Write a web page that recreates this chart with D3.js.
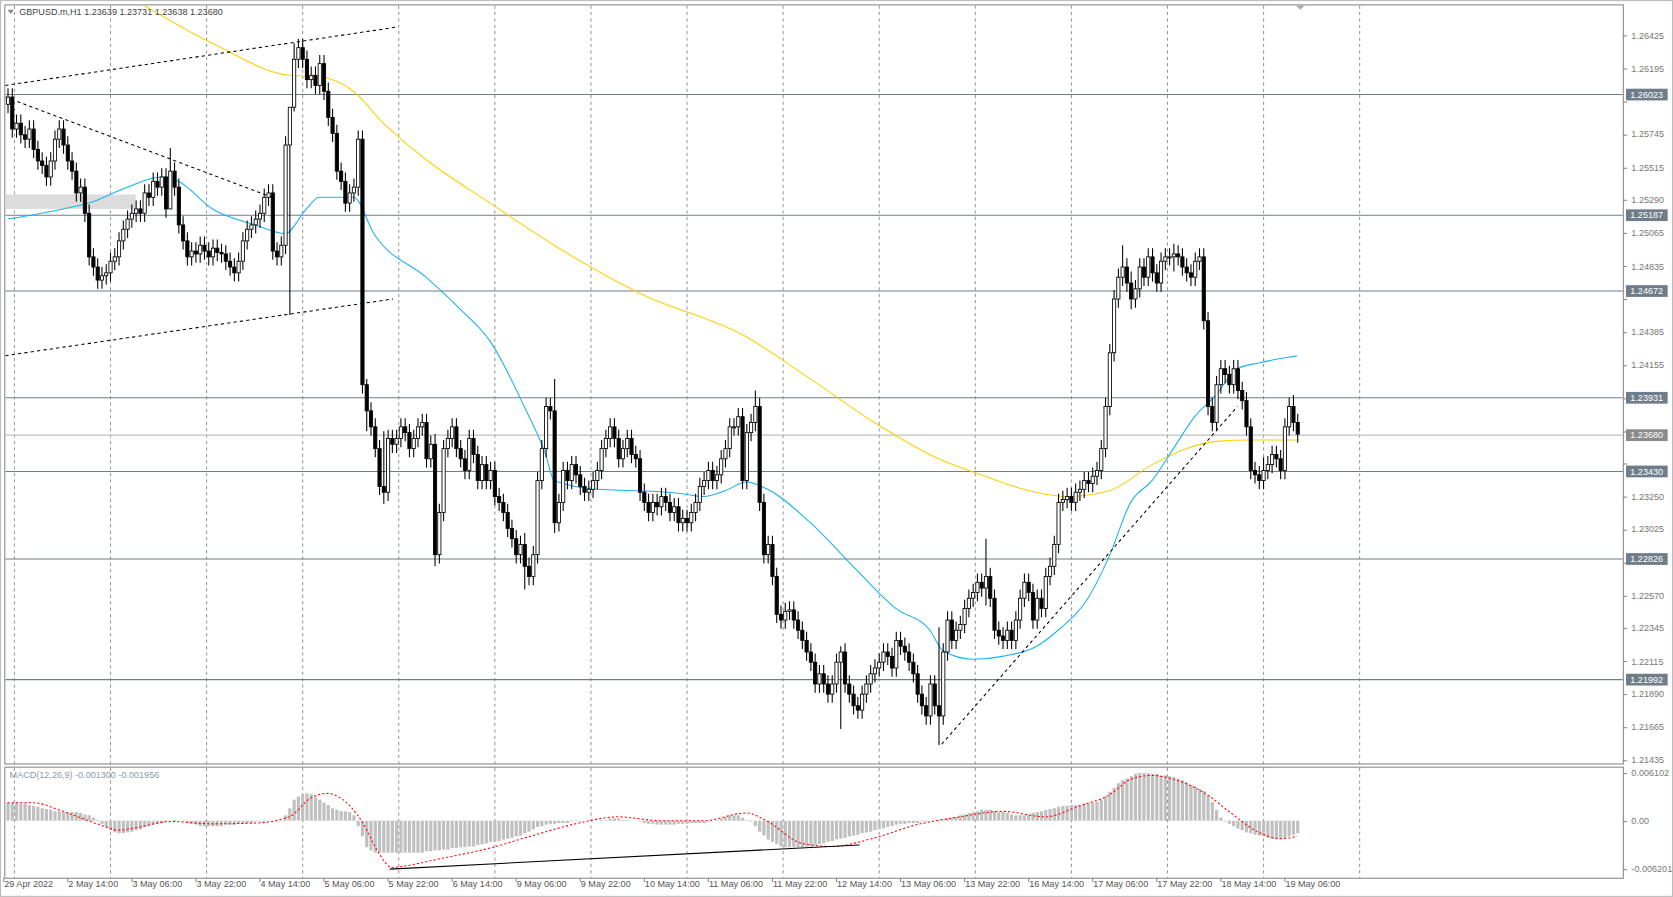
<!DOCTYPE html>
<html><head><meta charset="utf-8">
<script src="https://cdn.jsdelivr.net/npm/d3@7"></script>
<style>body{margin:0;background:#fff}svg{display:block}text{font-family:"Liberation Sans",Arial,sans-serif}</style>
</head><body><svg id="chart"></svg>
<script>
// closes in pips above 1.2 (1.2 + v/10000), one per H1 bar
const closes = [
600,578,582,574,571,578,564,556,553,545, 556,571,578,567,556,549,534,538,520,490,
483,474,477,479,487,490,501,509,516,520, 523,520,534,531,542,538,545,523,549,538,
512,501,490,494,492,498,494,490,496,493, 492,487,483,479,487,501,509,512,516,520,
531,534,494,490,498,567,593,626,634,626, 612,615,608,623,604,586,575,549,542,527,
534,538,571,402,384,373,358,332,328,365, 361,365,373,369,358,365,373,376,351,361,
285,314,358,365,373,358,351,343,365,354, 336,347,336,343,325,321,314,303,296,285,
292,277,270,285,336,358,387,384,307,321, 343,336,347,340,332,328,330,336,343,358,
365,373,365,351,358,365,354,351,328,321, 314,321,318,325,321,314,318,307,310,307,
314,321,332,336,343,336,340,351,358,373, 373,380,336,369,376,387,321,285,292,270,
244,240,246,247,240,233,226,218,211,196, 203,196,189,196,211,218,196,189,181,178,
189,196,203,207,211,218,215,207,226,222, 218,211,203,189,181,174,196,181,174,218,
240,226,233,237,248,255,259,266,262,270, 255,233,229,226,233,226,240,255,266,259,
240,255,248,270,277,292,321,323,325,321, 328,330,336,334,339,343,358,387,424,461,
476,483,472,461,468,483,476,490,479,472, 487,490,490,492,490,483,479,476,487,490,
446,387,376,402,413,409,402,413,398,391, 373,343,340,336,343,347,354,351,343,373,
387,376,368];
const firstOpen = 595;
// notable wicks: [bar, high, low] in pips
const wicks = [[38,565,536],[66,568,450],[67,637,590],[68,640,620],[100,368,277],[121,300,261],
  [128,406,300],[175,398,370],[195,222,165],[218,235,154],[229,296,250],[261,498,470],
  [263,480,454],[273,499,480],[294,352,330],[301,395,370],[84,406,370],[88,370,320]];
const defaultWick = 6;

const levels = [1.26023, 1.25187, 1.24672, 1.23931, 1.23430, 1.22826, 1.21992];
const lastPrice = 1.23680;
const priceTicks = [1.26425,1.26195,1.25970,1.25745,1.25515,1.25290,1.25065,1.24835,1.24610,1.24385,
  1.24155,1.23925,1.23700,1.23475,1.23250,1.23025,1.22795,1.22570,1.22345,1.22115,1.21890,1.21665,1.21435];

// moving averages: bar index, pips
const blueBars = [0,13,20,28,36,40,48,58,65,70,73,81,86,98,106,113,121,126,128,138,148,158,163,168,173,178,188,198,208,216,219,226,233,241,246,253,258,263,268,273,278,283,288,293,298,302];
const blueVals = [516,523,528,538,545,542,523,512,506,523,531,531,505,476,454,432,387,354,336,330,329,327,325,329,335,330,307,277,248,233,219,213,215,222,233,255,284,321,336,358,380,395,413,417,420,422];
const yellowBars = [28,48,66,73,81,88,98,113,128,148,173,188,203,218,228,238,248,258,268,276,283,291,302];
const yellowVals = [670,637,615,614,604,582,557,527,498,465,435,406,376,351,340,330,325,329,347,358,363,364,364];

// MACD histogram, units of 0.0001
const macdHist = [
23,23,23,22,22,20,19, 18,16,15,14,12,12,11, 11,11,11,10,8,7,4,1, -4,-8,-12,-15,-16,-16,-15,
-14,-12,-11,-8,-7,-5,-4, -3,-1,0,1,0,-1,-3,-4, -5,-7,-7,-7,-7,-7,-7,-5,-5,-5,
-4,-4,-3,-3,-1,-1,-1,0,0,-1,-1, 7,16,27,31,34,35,34,30,27, 23,20,16,14,12,12,11, 7,-7,-20,
-34,-38,-41,-41,-41,-41,-41,-41,-41,-41,
-41,-41,-41,-41,-39,-39,-38,-38,-37,-37,-35,-35,-34,-34,-33,-33,-31,-30,-29,-27,-27,-26,
-24,-23,-22,-20,-19,-16,-14,-11,-8,-7, -5,-4,-4,-3,-3,-3,-1,-1,-1,0,0,0,0,
1,1,3,3,3,1,1,0,0,-1, -3,-4,-4,-5,-5,-5,-5,-5,-4,-4,-4,-3,-3,-3,-3,
-1,0,1,3,5,7,7,7,4,1, -1,-7,-14,-19,-24,
-27,-30,-33,-34,-34,-34,-34,-34,-33,-33,-31,-30,-29,-27,-26,
-24,-23,-22,-20,-19,-18,-16,-15,-14,-12,-11,-10,-8,-7,-5,
-4,-4,-3,-3,-3,-1,-1,0,0,1,1,3,4,5,7,
8,10,11,12,14,14,14,12,11,11, 10,8,7,7,7,8,10,11,12,14,15,16,
18,19,19,20,20,20,22,22,23,24, 27,31,37,42,48,52,54,57,
60,61,61,61,60,60,58,58,57,56, 54,52,49,46,44,41,38,33, 24,14,4,-1,-4,
-7,-10,-12,-15,-16,-18,-19,-20,-22,-23,-23,-23,-22,-20,-18,-16];
const signalBars = [0,6,13,21,26,31,38,48,58,66,71,75,78,83,87,90,93,101,113,123,133,143,153,163,173,178,186,193,203,213,223,233,243,251,258,263,268,273,281,286,293,298,302];
const signalVals = [23,23,12,-4,-12,-8,-1,-4,-3,5,29,35,29,-1,-42,-60,-58,-49,-35,-19,-4,5,0,0,10,-1,-29,-33,-22,-5,5,12,5,19,33,53,58,53,33,12,-15,-23,-20];

const timeLabels = ["29 Apr 2022","2 May 14:00","3 May 06:00","3 May 22:00","4 May 14:00","5 May 06:00","5 May 22:00",
  "6 May 14:00","9 May 06:00","9 May 22:00","10 May 14:00","11 May 06:00","11 May 22:00","12 May 14:00",
  "13 May 06:00","13 May 22:00","16 May 14:00","17 May 06:00","17 May 22:00","18 May 14:00","19 May 06:00"];

// trend lines: [bar0, price0, bar1, price1]
const trendLines = [[-0.5,1.2608,90.75,1.2648],[-0.5,1.2422,90.25,1.2461],[-0.5,1.2600,62,1.2531],[218.75,1.21545,288,1.2387]];
const macdLine = [89.5,-0.0062,199.5,-0.0031];
const zone = [-0.5,30, 1.2533,1.2523];

const pip = v => 1.2 + v / 10000;
const W = 1567, H = 840;
const svg = d3.select('#chart').attr('width', 1673).attr('height', 897).attr('viewBox', `0 0 ${W} ${H}`);

const x = d3.scaleLinear().domain([0, 302]).range([7, 1215]);
const y = d3.scaleLinear().domain([1.21435, 1.26425]).range([712, 33]);
const ym = d3.scaleLinear().domain([-0.006201, 0.006102]).range([814, 724]);

svg.append('defs').append('clipPath').attr('id', 'clipMain').append('rect').attr('x', 5).attr('y', 5).attr('width', 1515).attr('height', 710);

// frames
svg.append('rect').attr('x', 0.5).attr('y', 0.5).attr('width', 1566).attr('height', 839).attr('fill', 'none').attr('stroke', '#bbb');
svg.append('rect').attr('x', 4.5).attr('y', 4.5).attr('width', 1516).attr('height', 711).attr('fill', 'none').attr('stroke', '#888');
svg.append('rect').attr('x', 4.5).attr('y', 718.5).attr('width', 1516).attr('height', 104).attr('fill', 'none').attr('stroke', '#888');

// vertical grid
const gridX = d3.range(13, 1280, 90);
svg.selectAll('.vg').data(gridX).join('line').attr('x1', d => d + 0.5).attr('x2', d => d + 0.5)
  .attr('y1', 5).attr('y2', 822).attr('stroke', '#999').attr('stroke-dasharray', '3,3');

const main = svg.append('g').attr('clip-path', 'url(#clipMain)');

main.append('rect').attr('x', x(zone[0])).attr('width', x(zone[1]) - x(zone[0]))
  .attr('y', y(zone[2])).attr('height', y(zone[3]) - y(zone[2])).attr('fill', '#dcdcdc');

// levels
main.selectAll('.lvl').data(levels).join('line').attr('x1', 5).attr('x2', 1520)
  .attr('y1', d => Math.round(y(d)) + 0.5).attr('y2', d => Math.round(y(d)) + 0.5).attr('stroke', '#6f7c8a');
main.append('line').attr('x1', 5).attr('x2', 1520).attr('y1', Math.round(y(lastPrice)) + 0.5).attr('y2', Math.round(y(lastPrice)) + 0.5).attr('stroke', '#c0c0c0');

// MAs
const lineGen = d3.line().x(d => x(d[0])).y(d => y(pip(d[1]))).curve(d3.curveMonotoneX);
main.append('path').datum(yellowBars.map((b, i) => [b, yellowVals[i]])).attr('d', lineGen).attr('fill', 'none').attr('stroke', '#ffd000').attr('stroke-width', 1);
main.append('path').datum(blueBars.map((b, i) => [b, blueVals[i]])).attr('d', lineGen).attr('fill', 'none').attr('stroke', '#1ab2f0').attr('stroke-width', 1);

// trend lines
main.selectAll('.tl').data(trendLines).join('line')
  .attr('x1', d => x(d[0])).attr('y1', d => y(d[1])).attr('x2', d => x(d[2])).attr('y2', d => y(d[3]))
  .attr('stroke', '#000').attr('stroke-dasharray', '3,3');

// candles
const wickMap = new Map(wicks.map(w => [w[0], w]));
const candles = closes.map((c, i) => {
  const o = i === 0 ? firstOpen : closes[i - 1];
  const w = wickMap.get(i);
  const hi = w ? Math.max(w[1], o, c) : Math.max(o, c) + defaultWick;
  const lo = w ? Math.min(w[2], o, c) : Math.min(o, c) - defaultWick;
  return { i, o: pip(o), c: pip(c), h: pip(hi), l: pip(lo) };
});
const cg = main.selectAll('.cd').data(candles).join('g');
cg.append('line').attr('x1', d => Math.round(x(d.i)) + 0.5).attr('x2', d => Math.round(x(d.i)) + 0.5)
  .attr('y1', d => y(d.h)).attr('y2', d => y(d.l)).attr('stroke', '#000');
cg.append('rect').attr('x', d => Math.round(x(d.i)) - 1).attr('width', 3)
  .attr('y', d => y(Math.max(d.o, d.c))).attr('height', d => Math.max(1, Math.abs(y(d.o) - y(d.c))))
  .attr('fill', d => d.c >= d.o ? '#fff' : '#000').attr('stroke', '#000').attr('stroke-width', 0.8);

// right axis
const ax = svg.append('g');
ax.selectAll('.pt').data(priceTicks).join('line').attr('x1', 1520).attr('x2', 1524)
  .attr('y1', d => Math.round(y(d)) + 0.5).attr('y2', d => Math.round(y(d)) + 0.5).attr('stroke', '#888');
ax.selectAll('.ptl').data(priceTicks.filter(v => !levels.concat([lastPrice]).some(l => Math.abs(y(l) - y(v)) < 9)))
  .join('text').attr('x', 1528).attr('y', d => y(d) + 3)
  .attr('font-size', 8.5).attr('fill', '#777').text(d => d.toFixed(5));
const tag = (v, fill) => {
  const yy = Math.round(y(v));
  ax.append('rect').attr('x', 1523).attr('y', yy - 5).attr('width', 39).attr('height', 11).attr('fill', fill);
  ax.append('text').attr('x', 1527).attr('y', yy + 3.5).attr('font-size', 8.5).attr('fill', '#fff').text(v.toFixed(5));
};
levels.forEach(v => tag(v, '#6f7c8a'));
tag(lastPrice, '#8a8a8a');

// header
svg.append('path').attr('d', 'M7,9 L13,9 L10,13 Z').attr('fill', '#888');
svg.append('text').attr('x', 18).attr('y', 14).attr('font-size', 8.5).attr('fill', '#444')
  .text('GBPUSD.m,H1  1.23639 1.23731 1.23638 1.23680');
svg.append('path').attr('d', 'M1214,5 L1222,5 L1218,9 Z').attr('fill', '#aaa');

// MACD
const mg = svg.append('g');
mg.selectAll('.hb').data(macdHist).join('rect')
  .attr('x', (d, i) => Math.round(x(i)) - 1).attr('width', 3)
  .attr('y', d => ym(Math.max(0, d / 10000))).attr('height', d => Math.abs(ym(d / 10000) - ym(0)))
  .attr('fill', '#c0c0c0');
mg.append('path').datum(signalBars.map((b, i) => [b, signalVals[i] / 10000]))
  .attr('d', d3.line().x(d => x(d[0])).y(d => ym(d[1])).curve(d3.curveMonotoneX))
  .attr('fill', 'none').attr('stroke', '#f00').attr('stroke-dasharray', '2,2');
mg.append('line').attr('x1', x(macdLine[0])).attr('y1', ym(macdLine[1])).attr('x2', x(macdLine[2])).attr('y2', ym(macdLine[3])).attr('stroke', '#000');
mg.append('text').attr('x', 9).attr('y', 729).attr('font-size', 8.5).attr('fill', '#8a9aaa').text('MACD(12,26,9) -0.001300 -0.001956');
const macdTicks = [0.006102, 0, -0.006201];
mg.selectAll('.mt').data(macdTicks).join('text').attr('x', 1528).attr('y', d => ym(d) + 3)
  .attr('font-size', 8.5).attr('fill', '#777').text(d => d === 0 ? '0.00' : d.toFixed(6));
mg.selectAll('.mtk').data(macdTicks).join('line').attr('x1', 1520).attr('x2', 1524)
  .attr('y1', d => Math.round(ym(d)) + 0.5).attr('y2', d => Math.round(ym(d)) + 0.5).attr('stroke', '#888');

// time axis
const tg = svg.append('g');
tg.selectAll('.tt').data(timeLabels).join('text').attr('x', (d, i) => x(i * 15) - 3).attr('y', 831)
  .attr('font-size', 8.5).attr('fill', '#555').text(d => d);
tg.selectAll('.ttk').data(timeLabels).join('line').attr('x1', (d, i) => Math.round(x(i * 15)) - 3.5).attr('x2', (d, i) => Math.round(x(i * 15)) - 3.5)
  .attr('y1', 822).attr('y2', 826).attr('stroke', '#888');
</script></body></html>
